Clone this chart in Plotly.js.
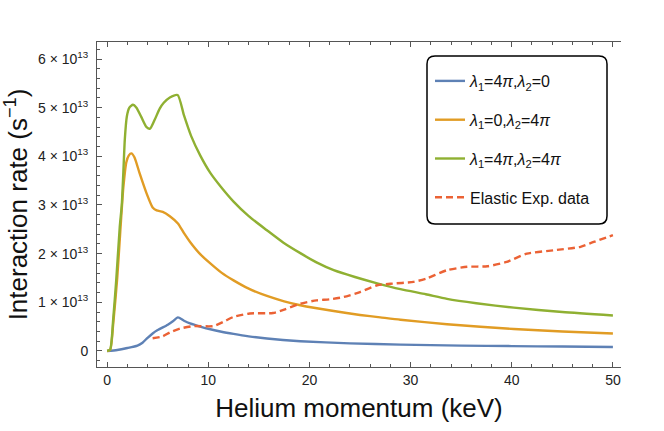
<!DOCTYPE html>
<html>
<head>
<meta charset="utf-8">
<script src="https://cdn.plot.ly/plotly-3.0.1.min.js"></script>
<style>
  html, body { margin: 0; padding: 0; background: #fff; }
  #chart { width: 664px; height: 431px; }
</style>
</head>
<body>
<div id="chart"></div>
<script>
// Values, y in units of 1e13 s^-1
const blueX = [0, 1, 2, 3, 3.5, 4, 4.5, 5, 6, 6.5, 7, 7.6, 8.2, 9.2, 10.2, 11.3, 12.5, 14, 15.8, 19.1, 24, 29, 35, 40, 45, 50];
const blueY = [0, 0.02, 0.06, 0.11, 0.17, 0.27, 0.36, 0.43, 0.54, 0.61, 0.69, 0.62, 0.565, 0.50, 0.445, 0.395, 0.35, 0.30, 0.255, 0.20, 0.155, 0.13, 0.11, 0.10, 0.09, 0.08];

const orangeX = [0, 0.3, 0.6, 1.0, 1.3, 1.6, 1.9, 2.15, 2.4, 2.7, 3.2, 3.9, 4.5, 4.9, 5.5, 6.2, 7.0, 7.6, 8.2, 9.2, 10.2, 11.3, 12.5, 14, 15.8, 17.5, 19.1, 22.4, 25, 27, 29, 33.6, 40.2, 45, 50];
const orangeY = [0, 0.02, 0.55, 1.5, 2.45, 3.35, 3.88, 4.02, 4.06, 3.98, 3.66, 3.24, 2.95, 2.89, 2.86, 2.77, 2.62, 2.42, 2.24, 1.99, 1.80, 1.61, 1.45, 1.28, 1.13, 1.02, 0.94, 0.82, 0.74, 0.69, 0.64, 0.55, 0.45, 0.40, 0.36];

const greenX = [0, 0.3, 0.6, 0.9, 1.25, 1.45, 1.6, 1.75, 1.95, 2.2, 2.55, 2.9, 3.4, 3.9, 4.25, 4.7, 5.2, 5.6, 6.2, 6.97, 7.6, 8.3, 9.2, 10.2, 11.3, 12.5, 14, 15.8, 17.4, 19.1, 20.7, 22.4, 24.5, 26.7, 29, 31.5, 33.6, 36.5, 40.2, 45, 50];
const greenY = [0, 0.03, 0.65, 1.45, 2.55, 3.0, 3.65, 4.35, 4.82, 5.0, 5.06, 5.0, 4.8, 4.6, 4.57, 4.75, 4.98, 5.1, 5.21, 5.26, 4.84, 4.42, 4.02, 3.66, 3.36, 3.07, 2.77, 2.48, 2.23, 2.01, 1.82, 1.66, 1.52, 1.39, 1.27, 1.165, 1.07, 0.98, 0.89, 0.80, 0.73];

const expX = [4.5, 5.5, 6.2, 7.2, 8.5, 10.5, 11.5, 12.5, 14.1, 16.4, 17.5, 19.1, 20.7, 22, 23.4, 25, 26.7, 28, 30.3, 31.6, 33.6, 35.6, 37.6, 39.5, 41.5, 44.2, 46.8, 48.1, 50];
const expY = [0.26, 0.30, 0.38, 0.46, 0.51, 0.51, 0.60, 0.70, 0.77, 0.78, 0.85, 0.97, 1.04, 1.06, 1.11, 1.21, 1.35, 1.38, 1.42, 1.49, 1.66, 1.73, 1.74, 1.83, 2.00, 2.07, 2.14, 2.24, 2.38];

const seriesNames = [
  '<i>λ</i><sub>1</sub>=4<i>π</i>,<i>λ</i><sub>2</sub>=0',
  '<i>λ</i><sub>1</sub>=0,<i>λ</i><sub>2</sub>=4<i>π</i>',
  '<i>λ</i><sub>1</sub>=4<i>π</i>,<i>λ</i><sub>2</sub>=4<i>π</i>',
  'Elastic Exp. data'
];

const yTickVals = [0, 1, 2, 3, 4, 5, 6];
const yTickText = yTickVals.map(v => v === 0 ? '0' : v + ' × 10<sup>13</sup>');

// plot frame in pixels
const W = 664, H = 431;
const M = { l: 97, r: 43, t: 42, b: 64 };

const lineTrace = (x, y, name, color, dash, group) => ({
  x: x,
  y: y,
  name: name,
  legendgroup: group,
  type: 'scatter',
  mode: 'lines',
  line: { color: color, width: 2.4, dash: dash, shape: 'spline', smoothing: 0.6 },
  hoverinfo: 'skip'
});

const traces = [
  lineTrace(blueX, blueY, seriesNames[0], '#5E81B5', 'solid', 'a'),
  lineTrace(orangeX, orangeY, seriesNames[1], '#E19C24', 'solid', 'b'),
  lineTrace(greenX, greenY, seriesNames[2], '#8FB032', 'solid', 'c'),
  lineTrace(expX, expY, seriesNames[3], '#EB6235', '7px,4px', 'd')
];

// rounded legend box, given in pixels and converted to paper coords
const pw = W - M.l - M.r, ph = H - M.t - M.b;
const px = v => (v - M.l) / pw;
const py = v => (H - M.b - v) / ph;
const box = { l: 427, r: 607, t: 56, b: 224, rad: 8 };
const roundBox = [
  `M${px(box.l + box.rad)},${py(box.t)}`,
  `L${px(box.r - box.rad)},${py(box.t)}`,
  `Q${px(box.r)},${py(box.t)} ${px(box.r)},${py(box.t + box.rad)}`,
  `L${px(box.r)},${py(box.b - box.rad)}`,
  `Q${px(box.r)},${py(box.b)} ${px(box.r - box.rad)},${py(box.b)}`,
  `L${px(box.l + box.rad)},${py(box.b)}`,
  `Q${px(box.l)},${py(box.b)} ${px(box.l)},${py(box.b - box.rad)}`,
  `L${px(box.l)},${py(box.t + box.rad)}`,
  `Q${px(box.l)},${py(box.t)} ${px(box.l + box.rad)},${py(box.t)}`,
  'Z'
].join(' ');

const frameColor = '#555';
const layout = {
  width: W,
  height: H,
  paper_bgcolor: '#fff',
  plot_bgcolor: '#fff',
  font: { family: 'Liberation Sans, Arial, sans-serif', color: '#222', size: 14 },
  margin: M,
  showlegend: true,
  legend: {
    x: px(430), y: py(64), xanchor: 'left', yanchor: 'top',
    bgcolor: 'rgba(0,0,0,0)', borderwidth: 0,
    font: { size: 16, color: '#111' },
    traceorder: 'grouped',
    tracegroupgap: 15
  },
  xaxis: {
    range: [-1.0, 50.8],
    tickvals: [0, 10, 20, 30, 40, 50],
    ticks: 'inside', ticklen: 5, tickwidth: 1, tickcolor: frameColor,
    minor: { dtick: 2, ticks: 'inside', ticklen: 3, tickcolor: frameColor, showgrid: false },
    showline: true, linecolor: frameColor, linewidth: 1, mirror: 'allticks',
    showgrid: false, zeroline: false,
    tickfont: { size: 14, color: '#222' },
    title: { text: 'Helium momentum (keV)', font: { size: 26, color: '#111' }, standoff: 12 }
  },
  yaxis: {
    range: [-0.33, 6.35],
    tickvals: yTickVals, ticktext: yTickText,
    ticks: 'inside', ticklen: 5, tickwidth: 1, tickcolor: frameColor,
    minor: { dtick: 0.2, ticks: 'inside', ticklen: 3, tickcolor: frameColor, showgrid: false },
    showline: true, linecolor: frameColor, linewidth: 1, mirror: false,
    showgrid: false, zeroline: false,
    ticklabelstandoff: 5,
    tickfont: { size: 14, color: '#222' },
    title: { text: 'Interaction rate (s<sup>−1</sup>)', font: { size: 26, color: '#111' }, standoff: 6 }
  },
  yaxis2: {
    overlaying: 'y', side: 'right',
    range: [-0.33, 6.35], dtick: 0.5, tick0: 0,
    ticks: 'inside', ticklen: 4, tickwidth: 1, tickcolor: frameColor,
    showticklabels: false, showline: true, linecolor: frameColor, linewidth: 1,
    showgrid: false, zeroline: false
  },
  shapes: [{
    type: 'path', xref: 'paper', yref: 'paper', path: roundBox,
    line: { color: '#000', width: 1.5 }, fillcolor: 'rgba(0,0,0,0)', layer: 'above'
  }]
};

Plotly.newPlot('chart', traces, layout, { displayModeBar: false, staticPlot: true });
</script>
</body>
</html>
